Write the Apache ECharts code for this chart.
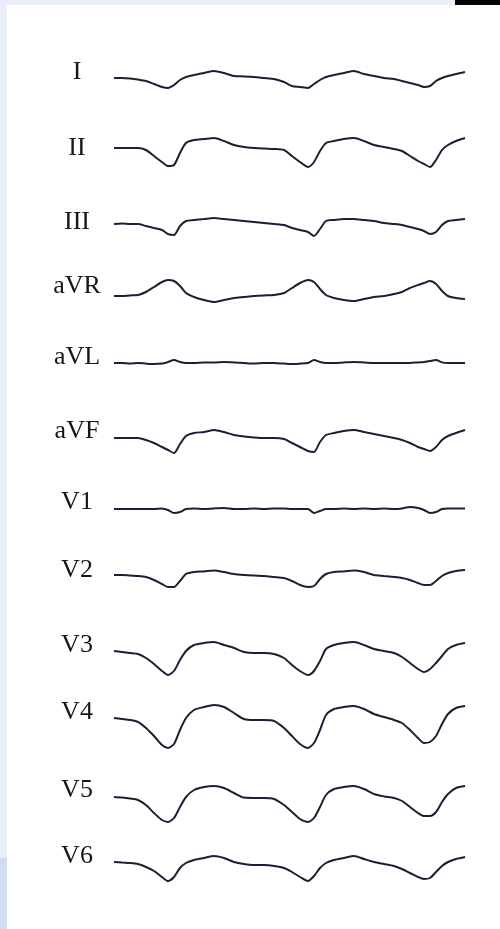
<!DOCTYPE html>
<html>
<head>
<meta charset="utf-8">
<script src="https://cdn.jsdelivr.net/npm/echarts@6/dist/echarts.min.js"></script>
<style>
html,body{margin:0;padding:0;background:#fff;}
#chart{width:500px;height:929px;}
</style>
</head>
<body>
<div id="chart"></div>
<script>
// Sample times (ms)
const times = [0,32,64,96,128,160,192,216,240,264,288,320,360,400,440,480,520,560,600,640,680,712,744,776,800,824,848,880,920,960,1000,1040,1080,1120,1152,1184,1216,1240,1264,1288,1312,1336,1368,1404];

// Lead names
const leads = ['I','II','III','aVR','aVL','aVF','V1','V2','V3','V4','V5','V6'];

// Amplitudes (mV) per lead
const leadI   = [0,0,-0.03,-0.08,-0.15,-0.3,-0.45,-0.5,-0.35,-0.1,0.05,0.15,0.25,0.35,0.25,0.1,0.08,0.05,0,-0.05,-0.2,-0.4,-0.45,-0.5,-0.3,-0.1,0.05,0.15,0.25,0.35,0.2,0.1,0,-0.05,-0.15,-0.25,-0.35,-0.45,-0.4,-0.15,0,0.1,0.2,0.3];
const leadII  = [0,0,0,0,-0.1,-0.4,-0.7,-0.9,-0.85,-0.25,0.25,0.4,0.45,0.5,0.35,0.15,0.05,0,-0.03,-0.05,-0.1,-0.4,-0.7,-0.95,-0.7,-0.15,0.25,0.35,0.45,0.5,0.35,0.15,0.05,-0.05,-0.15,-0.4,-0.65,-0.8,-0.95,-0.6,-0.1,0.15,0.35,0.5];
const leadIII = [0,0.03,0,0,-0.1,-0.2,-0.3,-0.5,-0.55,-0.1,0.15,0.2,0.25,0.3,0.25,0.2,0.15,0.1,0.05,0,-0.05,-0.2,-0.3,-0.4,-0.6,-0.25,0.15,0.2,0.25,0.25,0.2,0.15,0.05,0,-0.05,-0.15,-0.25,-0.35,-0.5,-0.4,-0.05,0.15,0.2,0.25];
const leadAVR = [0,0,0.03,0.05,0.2,0.45,0.7,0.8,0.75,0.5,0.15,-0.05,-0.2,-0.3,-0.2,-0.1,-0.05,0,0.03,0.05,0.15,0.4,0.65,0.8,0.7,0.35,0.05,-0.1,-0.2,-0.25,-0.15,-0.05,0,0.1,0.2,0.4,0.55,0.65,0.75,0.6,0.25,0,-0.1,-0.15];
const leadAVL = [0,0,-0.03,0,-0.03,-0.05,-0.03,0.05,0.15,0.05,0,0,0.03,0.03,0.05,0.03,0,-0.03,0,0,-0.03,-0.05,-0.03,0,0.15,0.05,0,0,0.03,0.05,0.03,0,0,0,0,0,0.03,0.05,0.1,0.15,0.03,0,0,0];
const leadAVF = [0,0,0,0,-0.1,-0.25,-0.45,-0.6,-0.75,-0.3,0.1,0.25,0.3,0.4,0.3,0.15,0.08,0.03,0,0,-0.05,-0.25,-0.45,-0.65,-0.7,-0.2,0.15,0.25,0.35,0.4,0.3,0.2,0.1,0,-0.1,-0.25,-0.45,-0.55,-0.65,-0.45,-0.1,0.1,0.25,0.4];
const leadV1  = [0,0,0,0,0,0,0.03,-0.05,-0.2,-0.15,0,0.03,0,0.03,0.05,0,0,0.03,0,0.03,0.03,0,0,0,-0.2,-0.1,0,0,0.03,0,0.03,0,0.03,0,0.03,0.1,0.05,-0.05,-0.2,-0.15,0,0.03,0.03,0.03];
const leadV2  = [0,0,-0.03,-0.05,-0.1,-0.25,-0.45,-0.6,-0.6,-0.3,0.05,0.15,0.18,0.22,0.15,0.05,0,-0.03,-0.05,-0.1,-0.15,-0.3,-0.5,-0.6,-0.55,-0.2,0.05,0.15,0.18,0.22,0.15,0,-0.05,-0.1,-0.15,-0.25,-0.4,-0.5,-0.5,-0.3,-0.05,0.1,0.2,0.25];
const leadV3  = [0,-0.05,-0.1,-0.15,-0.35,-0.65,-1,-1.2,-1,-0.45,0,0.3,0.4,0.45,0.3,0.15,-0.05,-0.1,-0.1,-0.15,-0.35,-0.7,-1,-1.2,-1,-0.5,0.1,0.3,0.4,0.45,0.3,0.1,0,-0.1,-0.3,-0.6,-0.9,-1.05,-0.9,-0.6,-0.25,0.1,0.3,0.4];
const leadV4  = [0,-0.05,-0.1,-0.2,-0.5,-0.9,-1.35,-1.5,-1.3,-0.6,0,0.4,0.55,0.65,0.55,0.25,-0.05,-0.1,-0.1,-0.15,-0.5,-0.9,-1.3,-1.5,-1.25,-0.6,0.15,0.45,0.55,0.6,0.45,0.2,0.05,-0.1,-0.25,-0.6,-1,-1.25,-1.2,-0.9,-0.3,0.2,0.5,0.6];
const leadV5  = [0,-0.03,-0.08,-0.15,-0.4,-0.8,-1.15,-1.25,-1.05,-0.5,0,0.35,0.5,0.55,0.45,0.2,-0.03,-0.05,-0.05,-0.1,-0.4,-0.75,-1.1,-1.25,-1.05,-0.5,0.1,0.4,0.5,0.55,0.4,0.15,0.03,-0.05,-0.2,-0.5,-0.8,-0.95,-0.95,-0.75,-0.25,0.15,0.45,0.55];
const leadV6  = [0,-0.03,-0.05,-0.1,-0.25,-0.45,-0.75,-0.95,-0.75,-0.3,-0.05,0.1,0.2,0.3,0.2,0,-0.1,-0.15,-0.15,-0.2,-0.3,-0.5,-0.75,-0.95,-0.7,-0.3,-0.05,0.1,0.2,0.3,0.15,0,-0.1,-0.2,-0.35,-0.55,-0.75,-0.85,-0.8,-0.5,-0.2,0,0.15,0.25];

const leadValues = [leadI, leadII, leadIII, leadAVR, leadAVL, leadAVF, leadV1, leadV2, leadV3, leadV4, leadV5, leadV6];

// Layout (pixels)
const baselines = [78,148,224,296,363,438,509,575,651,718,797,862];
const labelY    = [72,148,222,286,357,431,502,570,645,712,790,856];
const gridH = 80;

const grids = [], xAxes = [], yAxes = [], series = [], graphics = [];
leads.forEach((name, i) => {
  grids.push({left: 114, width: 351, top: baselines[i] - gridH/2, height: gridH});
  xAxes.push({type: 'value', gridIndex: i, min: 0, max: 1404, show: false});
  yAxes.push({type: 'value', gridIndex: i, min: -2, max: 2, show: false});
  series.push({
    type: 'line', xAxisIndex: i, yAxisIndex: i,
    data: times.map((t, k) => [t, leadValues[i][k]]),
    showSymbol: false, smooth: 0.25,
    lineStyle: {color: '#1a2034', width: 2},
    silent: true, animation: false
  });
  graphics.push({
    type: 'text', x: 77, y: labelY[i],
    style: {text: name, fill: '#161616', font: '26px "Liberation Serif", "DejaVu Serif", serif',
            textAlign: 'center', textVerticalAlign: 'middle'}
  });
});

// frame decorations
graphics.unshift(
  {type: 'rect', shape: {x: 0, y: 0, width: 500, height: 5}, style: {fill: '#e9eef8'}},
  {type: 'rect', shape: {x: 0, y: 0, width: 7, height: 929}, style: {fill: '#e9eef8'}},
  {type: 'rect', shape: {x: 0, y: 858, width: 7, height: 71}, style: {fill: '#d0dcf0'}},
  {type: 'rect', shape: {x: 455, y: 0, width: 45, height: 5}, style: {fill: '#050505'}}
);

const chart = echarts.init(document.getElementById('chart'), null, {renderer: 'canvas'});
chart.setOption({
  backgroundColor: '#ffffff',
  animation: false,
  grid: grids, xAxis: xAxes, yAxis: yAxes, series: series,
  graphic: graphics
});
</script>
</body>
</html>
